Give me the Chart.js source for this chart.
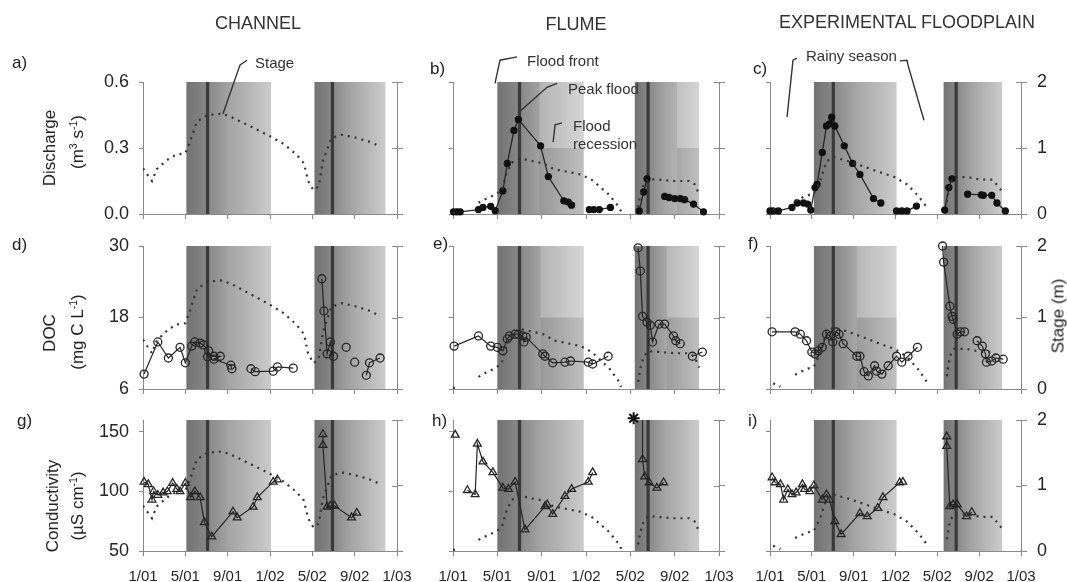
<!DOCTYPE html>
<html>
<head>
<meta charset="utf-8">
<script src="https://cdn.jsdelivr.net/npm/chart.js@4.4.1/dist/chart.umd.min.js"></script>
<style>
  body { margin: 0; background: #fff; width: 1067px; height: 582px; overflow: hidden; position: relative;
         font-family: 'Liberation Sans', Arial, sans-serif; color: #222; }
  canvas { position: absolute; left: 0; top: 0; }
  .t { position: absolute; white-space: nowrap; line-height: 1; transform: translateY(-50%); color: #222; }
  .c { transform: translate(-50%, -50%); }
  .r { transform: translate(-50%, -50%) rotate(-90deg); }
  .hdr { font-size: 18px; color: #333; }
  .lt { font-size: 17px; }
  .ax { font-size: 17px; }
  .ann { font-size: 15px; color: #333; }
  sup { font-size: 0.62em; vertical-align: 0.55em; line-height: 0; }
</style>
</head>
<body>
<!-- column headers -->
<div class="t c hdr" style="left:258px;top:23px">CHANNEL</div>
<div class="t c hdr" style="left:576px;top:24px">FLUME</div>
<div class="t c hdr" style="left:907px;top:22px">EXPERIMENTAL FLOODPLAIN</div>

<!-- panel letters -->
<div class="t lt" style="left:12px;top:62px">a)</div>
<div class="t lt" style="left:430px;top:68px">b)</div>
<div class="t lt" style="left:753px;top:68px">c)</div>
<div class="t lt" style="left:12px;top:244px">d)</div>
<div class="t lt" style="left:433px;top:243px">e)</div>
<div class="t lt" style="left:748px;top:243px">f)</div>
<div class="t lt" style="left:17px;top:420px">g)</div>
<div class="t lt" style="left:432px;top:420px">h)</div>
<div class="t lt" style="left:748px;top:420px">i)</div>

<!-- axis titles -->
<div class="t r ax" style="left:49px;top:148px">Discharge</div>
<div class="t r ax" style="left:77px;top:142px">(m<sup>3</sup> s<sup>-1</sup>)</div>
<div class="t r ax" style="left:49px;top:333px">DOC</div>
<div class="t r ax" style="left:77px;top:332px">(mg C L<sup>-1</sup>)</div>
<div class="t r ax" style="left:52px;top:506px">Conductivity</div>
<div class="t r ax" style="left:77px;top:506px">(µS cm<sup>-1</sup>)</div>
<div class="t r ax" style="left:1058px;top:316px">Stage (m)</div>

<!-- annotations -->
<div class="t ann" style="left:255px;top:62px">Stage</div>
<div class="t ann" style="left:527px;top:60px">Flood front</div>
<div class="t ann" style="left:568px;top:88px">Peak flood</div>
<div class="t ann" style="left:573px;top:125px">Flood</div>
<div class="t ann" style="left:573px;top:143px">recession</div>
<div class="t ann" style="left:806px;top:55px">Rainy season</div>

<script>
// x is months since 1/01, pairs are [month, value], null = gap in the line
const tickMonths = [0, 4, 8, 12, 16, 20, 24];
const tickLabels = ['1/01', '5/01', '9/01', '1/02', '5/02', '9/02', '1/03'];
const dischargeTicks = [0, 0.3, 0.6];
const docTicks = [6, 18, 30];
const condTicks = [50, 100, 150];
const stageTicks = [0, 1, 2];

// shaded seasons: [start, peak flood, end]
const bandsChannel = [[4.1, 6.1, 12.1], [16.2, 17.9, 22.9]];
const bandsFlume = [[4.0, 6.0, 11.8], [16.4, 17.6, 22.2]];
const bandsFloodplain = [[4.2, 6.05, 12.1], [16.6, 17.8, 22.2]];

// stage (m), dotted lines
const stageChannel = [[0,0.69],[0.85,0.5],[1.3,0.68],[2.3,0.82],[3.1,0.9],[4.0,0.92],[4.4,1.08],[5.1,1.4],[6.1,1.5],[7.5,1.52],[8.6,1.45],[10.5,1.3],[12.1,1.17],[13.3,1.06],[14.5,0.9],[15.2,0.77],[15.6,0.5],[16.1,0.36],[16.6,0.42],[17.0,0.8],[17.8,1.15],[18.8,1.2],[20.0,1.16],[21.3,1.1],[22.3,1.03]];
const stageFlume = [[0,0.02],[0.6,0.01],null,[2.3,0.17],[3.1,0.24],[3.8,0.29],[4.4,0.36],[4.8,0.6],[5.3,0.78],[6.1,0.84],[7.2,0.8],[8.1,0.77],[9.1,0.68],[10.3,0.64],[11.5,0.6],[12.5,0.52],[13.2,0.42],[14.1,0.29],[14.9,0.12],[15.2,0.03],null,[16.7,0.1],[16.9,0.29],[17.2,0.45],[17.6,0.53],[18.5,0.52],[20.0,0.5],[21.3,0.5],[21.8,0.45],[22.2,0.3]];
const stageFloodplain = [[0.3,0.08],[1.0,0.03],null,[2.4,0.2],[3.5,0.28],[4.2,0.31],[4.8,0.5],[5.4,0.8],[6.1,0.86],[7.5,0.8],[8.6,0.74],[10.2,0.65],[11.9,0.56],[13.1,0.45],[14.2,0.27],[15.0,0.1],null,[16.9,0.18],[17.2,0.46],[17.6,0.56],[18.8,0.56],[20.2,0.52],[21.3,0.52],[22.2,0.34]];

// discharge (m3 s-1)
const dischargeFlume = [[0.05,0.01],[0.35,0.01],[0.65,0.01],[2.3,0.02],[2.7,0.03],[3.4,0.035],[3.8,0.015],[4.5,0.105],[4.9,0.23],[5.5,0.38],[5.9,0.43],[7.9,0.31],[8.6,0.17],[10.0,0.06],[10.4,0.054],[10.7,0.04],null,[12.3,0.02],[12.7,0.02],[13.2,0.02],[14.2,0.03],null,[16.8,0.014],[17.2,0.1],[17.5,0.16],null,[19.1,0.08],[19.5,0.075],[20.0,0.07],[20.5,0.07],[20.9,0.065],[21.7,0.045],[22.6,0.01]];
const dischargeFloodplain = [[0.0,0.014],[0.3,0.014],[0.8,0.014],[2.1,0.03],[2.6,0.05],[3.2,0.05],[3.6,0.045],[3.9,0.018],[4.3,0.12],[4.5,0.135],[5.0,0.28],[5.4,0.4],[5.7,0.41],[5.9,0.44],[6.2,0.4],[7.1,0.31],[7.9,0.23],[8.6,0.18],[9.9,0.07],[10.6,0.05],null,[12.1,0.014],[12.6,0.014],[13.1,0.014],[14.0,0.036],null,[16.7,0.018],[17.1,0.12],[17.4,0.16],null,[18.9,0.09],[20.2,0.087],[20.4,0.085],[21.2,0.085],[21.7,0.05],[22.5,0.014]];

// DOC (mg C L-1)
const docChannel = [[0.1,8.5],[1.4,13.9],[2.4,11.2],[3.5,13.0],[4.0,10.4],[4.6,13.2],[4.9,13.9],[5.4,13.7],[5.7,13.4],[6.2,12.4],[6.1,11.4],[6.7,11.5],[7.3,11.5],[6.7,11.0],[8.3,10.0],[8.4,9.4],null,[10.2,9.4],[10.6,8.9],[12.3,9.0],[12.7,9.7],[14.2,9.5],null,[16.9,24.5],[17.1,19.1],[17.4,11.9],[17.7,13.9],[18.0,11.5],null,[19.2,13.0],null,[20.0,10.5],null,[21.1,8.3],[21.4,10.4],[22.4,11.2]];
const docFlume = [[0.1,13.2],[2.3,14.9],[3.4,13.2],[4.0,13.0],[4.5,12.4],[4.9,14.4],[5.1,14.9],[5.6,15.2],[5.9,15.2],[6.3,14.9],[6.4,13.9],[6.6,14.7],[8.1,11.9],[8.3,11.5],[9.0,10.4],[10.1,10.5],[10.6,10.7],[12.2,10.5],[12.6,10.2],[14.0,11.5],null,[16.7,29.7],[16.9,25.8],[17.1,18.2],[17.5,17.2],[17.8,16.7],[18.0,13.9],[18.6,16.9],[19.1,16.9],[19.9,14.9],[20.1,14.1],[20.5,13.6],null,[21.6,11.5],[22.5,12.2]];
const docFloodplain = [[0.2,15.6],[2.4,15.6],[2.9,15.2],[3.5,14.1],[4.0,12.2],[4.3,11.9],[4.6,12.4],[5.0,13.0],[5.4,15.2],[5.8,14.9],[6.0,13.9],[6.3,15.6],[6.6,15.2],[7.0,13.6],[8.3,11.5],[8.6,11.5],[9.0,8.9],[9.4,8.2],[10.0,9.9],[10.2,9.0],[10.7,8.5],[11.3,9.9],[12.1,11.5],[12.6,10.5],[13.2,11.5],[14.1,13.0],null,[16.5,30.0],[16.6,27.3],[17.2,19.9],[17.4,18.2],[17.5,17.7],[17.9,15.2],[18.2,15.6],[18.6,15.6],null,[19.8,14.1],[20.3,13.2],[20.6,11.9],[20.7,10.5],[21.2,10.7],[21.6,11.2],[22.3,11.0]];

// conductivity (uS cm-1)
const condChannel = [[0.1,108],[0.5,106],[0.85,93],[1.0,100],[1.4,97],[1.9,99],[2.3,100],[2.8,107],[3.2,102],[3.5,100],[4.0,107],[4.5,95],[4.9,100],[5.4,95],[5.8,74],[6.5,62],[8.5,83],[8.9,78],[10.4,87],[10.8,95],[12.3,108],[12.7,110],null,[17.0,148],[17.0,139],[17.4,87],[17.7,88],[18.1,88],[19.7,78],[20.2,82]];
const condFlume = [[0.2,147.5],null,[1.3,101],[2.0,97.5],[2.2,140],[2.7,125],[3.6,116],[4.5,103],[5.0,102],[5.6,108],[6.5,68],[8.3,87.5],[8.5,89],[9.0,81],[10.1,96],[10.7,102],[12.2,108],[12.6,116],null,[17.1,160],[17.1,127],[17.3,112.5],[17.7,107.5],[18.4,103],[19.0,107.5]];
const condFlumeOffscale = [[16.3,161.5]];
const condFloodplain = [[0.2,111.7],[0.5,107.5],[1.0,106],[1.3,93],[1.7,101.7],[2.1,97.5],[2.5,99],[3.1,106],[3.3,102],[3.8,100],[4.2,105],[5.0,93],[5.4,97.5],[5.7,93],[6.2,75],[6.8,64],[8.6,81.7],[9.3,79],[10.3,86],[10.8,95],[12.4,107.5],[12.7,108],null,[16.9,146],[16.9,138],[17.2,87.5],[17.5,89],[17.9,89],[18.8,79],[19.3,82.5]];

// leader lines for the labels, in [month, stage] units
const leaderStage = [[7.56,1.52],[9.17,2.26],[9.83,2.33]];
const leaderFloodFront = [[3.79,1.98],[4.24,2.33],[5.78,2.38]];
const leaderPeakFlood = [[5.87,1.53],[8.48,1.92],[9.39,1.98]];
const leaderRecession = [[9.03,1.09],[9.21,1.35],[9.84,1.38]];
const leaderRainyLeft = [[1.63,1.47],[2.2,2.33],[2.58,2.36]];
const leaderRainyRight = [[12.43,2.32],[13.1,2.33],[13.19,2.26],[14.72,1.42]];

const W = 1067, H = 582;
const LEFT_W = 110, RIGHT_W = 30;
const AXIS = '#8a8a8a';
const INK = '#262626';
const FONT = "'Liberation Sans', Arial, sans-serif";

const cols = [
  { left: 143, right: 397, bands: bandsChannel, stage: stageChannel },
  { left: 453, right: 719, bands: bandsFlume, stage: stageFlume },
  { left: 770, right: 1021, bands: bandsFloodplain, stage: stageFloodplain }
];
// xh = height of the date axis box (labels are clipped to it)
const rows = [
  { top: 82, bottom: 214, xh: 12, min: 0, max: 0.6, ticks: dischargeTicks, fmt: v => v.toFixed(1) },
  { top: 246, bottom: 389, xh: 12, min: 6, max: 30, ticks: docTicks, fmt: v => String(v) },
  { top: 420, bottom: 551, xh: 31, min: 50, max: 160, ticks: condTicks, fmt: v => String(v) }
];

function pts(arr) {
  const out = [];
  let last = 0;
  arr.forEach(p => {
    if (p === null) out.push({ x: last, y: null });
    else { out.push({ x: p[0], y: p[1] }); last = p[0]; }
  });
  return out;
}

function stageSet(data) {
  return { data: pts(data), yAxisID: 'y2', borderColor: '#333', borderWidth: 2.2,
           borderDash: [2, 5], pointRadius: 0, tension: 0, spanGaps: false };
}
function dischargeSet(data) {
  return { data: pts(data), yAxisID: 'y', borderColor: INK, borderWidth: 1.3, pointStyle: 'circle',
           pointRadius: 3, pointBackgroundColor: '#111', pointBorderColor: '#111', clip: false, spanGaps: false };
}
function docSet(data) {
  return { data: pts(data), yAxisID: 'y', borderColor: INK, borderWidth: 1.2, pointStyle: 'circle',
           pointRadius: 4, pointBackgroundColor: 'rgba(0,0,0,0)', pointBorderColor: INK,
           pointBorderWidth: 1.3, clip: false, spanGaps: false };
}
function condSet(data) {
  return { data: pts(data), yAxisID: 'y', borderColor: INK, borderWidth: 1.2, pointStyle: 'triangle',
           pointRadius: c => (c.raw && c.raw.y >= 160) ? 0 : 4.5,
           pointBackgroundColor: 'rgba(0,0,0,0)', pointBorderColor: INK,
           pointBorderWidth: 1.3, clip: false, spanGaps: false };
}

const panels = [
  { col: 0, row: 0, sets: [], leaders: [leaderStage] },
  { col: 1, row: 0, sets: [dischargeSet(dischargeFlume)], splits: [7.8, 20.2],
    leaders: [leaderFloodFront, leaderPeakFlood, leaderRecession] },
  { col: 2, row: 0, sets: [dischargeSet(dischargeFloodplain)], leaders: [leaderRainyLeft, leaderRainyRight] },
  { col: 0, row: 1, sets: [docSet(docChannel)] },
  { col: 1, row: 1, sets: [docSet(docFlume)], splits: [7.9, 19.3] },
  { col: 2, row: 1, sets: [docSet(docFloodplain)], splits: [8.3, null] },
  { col: 0, row: 2, sets: [condSet(condChannel)] },
  { col: 1, row: 2, sets: [condSet(condFlume),
      { data: pts(condFlumeOffscale), yAxisID: 'y', showLine: false, pointStyle: 'star', pointRadius: 6,
        pointBorderColor: '#111', pointBorderWidth: 2, clip: false }] },
  { col: 2, row: 2, sets: [condSet(condFloodplain)] }
];

// shaded seasons + peak flood lines, under everything
const bandPlugin = {
  id: 'bands',
  beforeDraw(chart, args, opts) {
    const { ctx, chartArea: a, scales: { x, y2 } } = chart;
    const mid = y2.getPixelForValue(1);
    ctx.save();
    opts.bands.forEach((b, i) => {
      const x0 = x.getPixelForValue(b[0]), xp = x.getPixelForValue(b[1]), x1 = x.getPixelForValue(b[2]);
      const g = ctx.createLinearGradient(x0, 0, x1, 0);
      const tp = (xp - x0) / (x1 - x0);
      g.addColorStop(0, '#737373');
      g.addColorStop(tp, '#878787');
      g.addColorStop(Math.min(1, tp + 0.25), '#a3a3a3');
      g.addColorStop(1, '#cbcbcb');
      ctx.fillStyle = g;
      ctx.fillRect(x0, a.top, x1 - x0, a.bottom - a.top);
      const s = opts.splits && opts.splits[i];
      if (s != null) {
        const xs = x.getPixelForValue(s);
        ctx.fillStyle = 'rgba(255,255,255,0.2)';
        ctx.fillRect(xs, a.top, x1 - xs, mid - a.top);
        ctx.fillStyle = 'rgba(0,0,0,0.06)';
        ctx.fillRect(xs, mid, x1 - xs, a.bottom - mid);
      }
      ctx.strokeStyle = '#3a3a3a';
      ctx.lineWidth = 3.2;
      ctx.beginPath();
      ctx.moveTo(xp, a.top);
      ctx.lineTo(xp, a.bottom);
      ctx.stroke();
    });
    ctx.restore();
  }
};

// label leader lines
const leaderPlugin = {
  id: 'leaders',
  afterDraw(chart, args, opts) {
    if (!opts.lines) return;
    const { ctx, scales: { x, y2 } } = chart;
    ctx.save();
    ctx.strokeStyle = '#333';
    ctx.lineWidth = 1.4;
    opts.lines.forEach(line => {
      ctx.beginPath();
      line.forEach((p, i) => {
        const px = x.getPixelForValue(p[0]), py = y2.getPixelForValue(p[1]);
        if (i === 0) ctx.moveTo(px, py); else ctx.lineTo(px, py);
      });
      ctx.stroke();
    });
    ctx.restore();
  }
};

// stage axis ticks cross the axis line
const crossTickPlugin = {
  id: 'crossTicks',
  afterDraw(chart) {
    const { ctx, chartArea: a, scales: { y2 } } = chart;
    ctx.save();
    ctx.strokeStyle = AXIS;
    ctx.lineWidth = 1;
    y2.ticks.forEach(t => {
      const py = Math.round(y2.getPixelForValue(t.value)) + 0.5;
      ctx.beginPath();
      ctx.moveTo(a.right - 5, py);
      ctx.lineTo(a.right, py);
      ctx.stroke();
    });
    ctx.restore();
  }
};

panels.forEach(p => {
  const c = cols[p.col], r = rows[p.row];
  const cv = document.createElement('canvas');
  cv.width = W; cv.height = H;
  document.body.insertBefore(cv, document.body.firstChild);
  new Chart(cv, {
    type: 'line',
    data: { datasets: [stageSet(c.stage)].concat(p.sets) },
    options: {
      responsive: false, animation: false, events: [],
      layout: { padding: { left: c.left - LEFT_W, right: W - c.right - RIGHT_W, top: r.top, bottom: H - r.bottom - r.xh } },
      plugins: {
        legend: { display: false }, tooltip: { enabled: false },
        bands: { bands: c.bands, splits: p.splits },
        leaders: { lines: p.leaders }
      },
      scales: {
        x: {
          type: 'linear', min: 0, max: 24,
          afterBuildTicks: s => { s.ticks = tickMonths.map(v => ({ value: v })); },
          afterFit: s => { s.height = r.xh; },
          grid: { drawOnChartArea: false, tickLength: 5, color: AXIS },
          border: { color: AXIS },
          ticks: { display: p.row === 2, maxRotation: 0, minRotation: 0, autoSkip: false, padding: 12,
                   color: INK, font: { family: FONT, size: 15 },
                   callback: v => tickLabels[tickMonths.indexOf(v)] }
        },
        y: {
          position: 'left', min: r.min, max: r.max,
          afterBuildTicks: s => { s.ticks = r.ticks.map(v => ({ value: v })); },
          afterFit: s => { s.width = LEFT_W; },
          grid: { drawOnChartArea: false, tickLength: 4, color: AXIS },
          border: { color: AXIS },
          ticks: { display: p.col === 0, padding: 10, color: INK, font: { family: FONT, size: 18 },
                   callback: v => r.fmt(v) }
        },
        y2: {
          position: 'right', min: 0, max: 2,
          afterBuildTicks: s => { s.ticks = stageTicks.map(v => ({ value: v })); },
          afterFit: s => { s.width = RIGHT_W; },
          grid: { drawOnChartArea: false, tickLength: 6, color: AXIS },
          border: { color: AXIS },
          ticks: { display: p.col === 2, padding: 10, color: INK, font: { family: FONT, size: 18 } }
        }
      }
    },
    plugins: [bandPlugin, leaderPlugin, crossTickPlugin]
  });
});
</script>
</body>
</html>
